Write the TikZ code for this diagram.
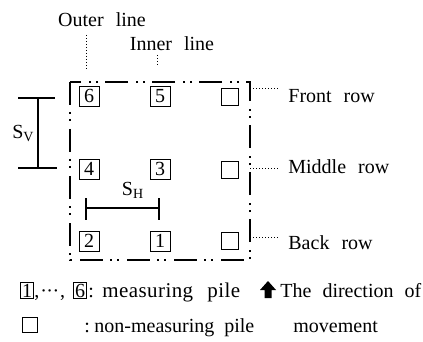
\documentclass[tikz,border=0pt]{standalone}
\usepackage{fontspec}
\setmainfont{Liberation Serif}
\newfontfamily\spacedfont[LetterSpace=2]{Liberation Serif}
\newcommand\wideA{\spaceskip=0.6em\relax}
\newcommand\wideB{\spaceskip=0.5em\relax}
\newcommand\wideC{\spaceskip=0.55em\relax}
\newcommand\mdot{\char"00B7}
\begin{document}
\begin{tikzpicture}[x=0.5pt,y=-0.5pt,
  lbl/.style={font=\fontsize{10}{12}\selectfont\wideA, inner sep=0pt},
  leg/.style={font=\fontsize{10}{12}\selectfont\wideB, inner sep=0pt, anchor=base west},
  pile/.style={draw, line width=0.4pt, minimum size=10pt, inner sep=0pt, font=\fontsize{10}{12}\selectfont},
  emptypile/.style={draw, line width=0.4pt, minimum size=8.5pt, inner sep=0pt},
  legbox/.style={draw, line width=0.4pt, inner sep=0.6pt, anchor=base, font=\fontsize{10}{12}\selectfont},
  border/.style={line width=1pt, dash pattern=on 11.5pt off 3.5pt on 1pt off 2.5pt on 1pt off 4pt},
  lead/.style={line width=0.5pt, dash pattern=on 0.5pt off 1pt},
  dimline/.style={line width=0.6pt},
]
\useasboundingbox (0,0) rectangle (423,342);

% frame of the pile group
\coordinate (tl) at (70,82);
\coordinate (br) at (250,260);
\draw[border] (tl) rectangle (br);

% piles
\node[pile] (p6) at (89,96) {6};
\node[pile] (p5) at (160,96) {5};
\node[emptypile] (e1) at (230,97) {};
\node[pile] (p4) at (89,169) {4};
\node[pile] (p3) at (160,169) {3};
\node[emptypile] (e2) at (230,170) {};
\node[pile] (p2) at (89,241) {2};
\node[pile] (p1) at (160,241) {1};
\node[emptypile] (e3) at (230,241) {};

% line labels
\node[lbl] (outer) at (102,20) {Outer line};
\coordinate (o1) at (86,35);
\coordinate (o2) at (86,70);
\draw[lead] (o1) -- (o2);
\node[lbl] (inner) at (172,44) {Inner line};
\coordinate (i1) at (157,55);
\coordinate (i2) at (157,67);
\draw[lead] (i1) -- (i2);

% row labels
\coordinate (f1) at (250,89);
\coordinate (f2) at (278,89);
\draw[lead] (f1) -- (f2);
\node[lbl, anchor=west] (front) at (288,96) {Front row};
\coordinate (m1) at (250,168);
\coordinate (m2) at (278,168);
\draw[lead] (m1) -- (m2);
\node[lbl, anchor=west] (middle) at (288,167) {Middle row};
\coordinate (b1) at (250,237);
\coordinate (b2) at (278,237);
\draw[lead] (b1) -- (b2);
\node[lbl, anchor=west] (back) at (288,243) {Back row};

% S_V dimension
\coordinate (v1) at (38,98);
\coordinate (v2) at (38,168);
\coordinate (v1a) at (18,98);
\coordinate (v1b) at (55,98);
\coordinate (v2a) at (18,168);
\coordinate (v2b) at (57,168);
\draw[dimline] (v1a) -- (v1b);
\draw[dimline] (v2a) -- (v2b);
\draw[dimline] (v1) -- (v2);
\node[lbl, anchor=east] (sv) at (35,133) {S\textsubscript{V}};

% S_H dimension
\coordinate (h1) at (86,208);
\coordinate (h2) at (159,208);
\coordinate (h1a) at (86,198);
\coordinate (h1b) at (86,220);
\coordinate (h2a) at (159,198);
\coordinate (h2b) at (159,220);
\draw[dimline] (h1) -- (h2);
\draw[dimline] (h1a) -- (h1b);
\draw[dimline] (h2a) -- (h2b);
\node[lbl] (sh) at (133,190) {S\textsubscript{H}};

% legend line 1
\node[legbox] (l1) at (27,297) {1};
\node[leg] (ldots) at (34,297) {,\kern0.5pt\mdot\kern-0.3pt\mdot\kern-0.3pt\mdot\kern0.5pt,};
\node[legbox] (l6) at (80,297) {6};
\node[leg] (lcolon) at (88,297) {:};
\node[leg, font=\fontsize{10.5}{12}\spacedfont] (lmeas) at (102,297) {measuring};
\node[leg, font=\fontsize{10.5}{12}\spacedfont] (lpile) at (207,297) {pile};
\coordinate (a1) at (260,290);
\coordinate (a2) at (268,281);
\coordinate (a3) at (276,290);
\coordinate (a4) at (271.5,290);
\coordinate (a5) at (271.5,298);
\coordinate (a6) at (264.5,298);
\coordinate (a7) at (264.5,290);
\fill (a1) -- (a2) -- (a3) -- (a4) -- (a5) -- (a6) -- (a7) -- cycle;
\node[leg, font=\fontsize{10}{12}\selectfont\wideC] (ldir) at (280,297) {The direction of};

% legend line 2
\node[draw, line width=0.4pt, minimum size=7.5pt, inner sep=0pt] (lbox) at (30,324.5) {};
\node[leg] (lcolon2) at (84,332) {:};
\node[leg] (lnon) at (94,332) {non-measuring pile};
\node[leg] (lmove) at (293,332) {movement};
\end{tikzpicture}
\end{document}
